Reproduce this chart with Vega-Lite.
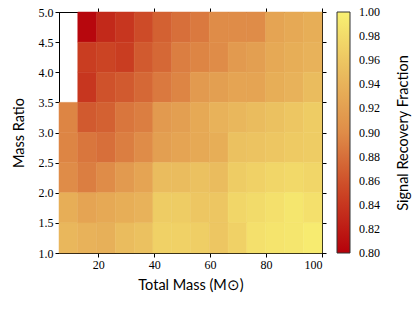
{
"$schema":"https://vega.github.io/schema/vega-lite/v6.json",
"width":263,"height":241,
"autosize":{"type":"none"},
"padding":{"left":59,"top":12,"right":94,"bottom":57},
"config":{"view":{"stroke":"black","strokeWidth":1},
 "axis":{"grid":false,"domainColor":"black","tickColor":"black","tickSize":4,"labelFont":"Liberation Serif","labelFontSize":12,"labelColor":"black","titleFont":"Lato","titleFontSize":14.5,"titleFontWeight":"normal","titleColor":"black","labelPadding":2}},
"data":{"values":[
{"m0":12.71,"m1":19.43,"q0":4.5,"q1":5.0,"f":0.805},
{"m0":19.43,"m1":26.14,"q0":4.5,"q1":5.0,"f":0.83},
{"m0":26.14,"m1":32.86,"q0":4.5,"q1":5.0,"f":0.84},
{"m0":32.86,"m1":39.57,"q0":4.5,"q1":5.0,"f":0.855},
{"m0":39.57,"m1":46.29,"q0":4.5,"q1":5.0,"f":0.87},
{"m0":46.29,"m1":53,"q0":4.5,"q1":5.0,"f":0.88},
{"m0":53,"m1":59.71,"q0":4.5,"q1":5.0,"f":0.887},
{"m0":59.71,"m1":66.43,"q0":4.5,"q1":5.0,"f":0.9},
{"m0":66.43,"m1":73.14,"q0":4.5,"q1":5.0,"f":0.9},
{"m0":73.14,"m1":79.86,"q0":4.5,"q1":5.0,"f":0.9},
{"m0":79.86,"m1":86.57,"q0":4.5,"q1":5.0,"f":0.925},
{"m0":86.57,"m1":93.29,"q0":4.5,"q1":5.0,"f":0.93},
{"m0":93.29,"m1":100,"q0":4.5,"q1":5.0,"f":0.935},
{"m0":12.71,"m1":19.43,"q0":4.0,"q1":4.5,"f":0.845},
{"m0":19.43,"m1":26.14,"q0":4.0,"q1":4.5,"f":0.85},
{"m0":26.14,"m1":32.86,"q0":4.0,"q1":4.5,"f":0.845},
{"m0":32.86,"m1":39.57,"q0":4.0,"q1":4.5,"f":0.865},
{"m0":39.57,"m1":46.29,"q0":4.0,"q1":4.5,"f":0.875},
{"m0":46.29,"m1":53,"q0":4.0,"q1":4.5,"f":0.89},
{"m0":53,"m1":59.71,"q0":4.0,"q1":4.5,"f":0.895},
{"m0":59.71,"m1":66.43,"q0":4.0,"q1":4.5,"f":0.9},
{"m0":66.43,"m1":73.14,"q0":4.0,"q1":4.5,"f":0.915},
{"m0":73.14,"m1":79.86,"q0":4.0,"q1":4.5,"f":0.92},
{"m0":79.86,"m1":86.57,"q0":4.0,"q1":4.5,"f":0.93},
{"m0":86.57,"m1":93.29,"q0":4.0,"q1":4.5,"f":0.935},
{"m0":93.29,"m1":100,"q0":4.0,"q1":4.5,"f":0.94},
{"m0":12.71,"m1":19.43,"q0":3.5,"q1":4.0,"f":0.84},
{"m0":19.43,"m1":26.14,"q0":3.5,"q1":4.0,"f":0.86},
{"m0":26.14,"m1":32.86,"q0":3.5,"q1":4.0,"f":0.865},
{"m0":32.86,"m1":39.57,"q0":3.5,"q1":4.0,"f":0.875},
{"m0":39.57,"m1":46.29,"q0":3.5,"q1":4.0,"f":0.887},
{"m0":46.29,"m1":53,"q0":3.5,"q1":4.0,"f":0.895},
{"m0":53,"m1":59.71,"q0":3.5,"q1":4.0,"f":0.915},
{"m0":59.71,"m1":66.43,"q0":3.5,"q1":4.0,"f":0.92},
{"m0":66.43,"m1":73.14,"q0":3.5,"q1":4.0,"f":0.925},
{"m0":73.14,"m1":79.86,"q0":3.5,"q1":4.0,"f":0.925},
{"m0":79.86,"m1":86.57,"q0":3.5,"q1":4.0,"f":0.935},
{"m0":86.57,"m1":93.29,"q0":3.5,"q1":4.0,"f":0.94},
{"m0":93.29,"m1":100,"q0":3.5,"q1":4.0,"f":0.95},
{"m0":6,"m1":12.71,"q0":3.0,"q1":3.5,"f":0.895},
{"m0":12.71,"m1":19.43,"q0":3.0,"q1":3.5,"f":0.865},
{"m0":19.43,"m1":26.14,"q0":3.0,"q1":3.5,"f":0.87},
{"m0":26.14,"m1":32.86,"q0":3.0,"q1":3.5,"f":0.885},
{"m0":32.86,"m1":39.57,"q0":3.0,"q1":3.5,"f":0.89},
{"m0":39.57,"m1":46.29,"q0":3.0,"q1":3.5,"f":0.915},
{"m0":46.29,"m1":53,"q0":3.0,"q1":3.5,"f":0.92},
{"m0":53,"m1":59.71,"q0":3.0,"q1":3.5,"f":0.93},
{"m0":59.71,"m1":66.43,"q0":3.0,"q1":3.5,"f":0.94},
{"m0":66.43,"m1":73.14,"q0":3.0,"q1":3.5,"f":0.945},
{"m0":73.14,"m1":79.86,"q0":3.0,"q1":3.5,"f":0.95},
{"m0":79.86,"m1":86.57,"q0":3.0,"q1":3.5,"f":0.955},
{"m0":86.57,"m1":93.29,"q0":3.0,"q1":3.5,"f":0.96},
{"m0":93.29,"m1":100,"q0":3.0,"q1":3.5,"f":0.965},
{"m0":6,"m1":12.71,"q0":2.5,"q1":3.0,"f":0.895},
{"m0":12.71,"m1":19.43,"q0":2.5,"q1":3.0,"f":0.885},
{"m0":19.43,"m1":26.14,"q0":2.5,"q1":3.0,"f":0.88},
{"m0":26.14,"m1":32.86,"q0":2.5,"q1":3.0,"f":0.89},
{"m0":32.86,"m1":39.57,"q0":2.5,"q1":3.0,"f":0.9},
{"m0":39.57,"m1":46.29,"q0":2.5,"q1":3.0,"f":0.92},
{"m0":46.29,"m1":53,"q0":2.5,"q1":3.0,"f":0.925},
{"m0":53,"m1":59.71,"q0":2.5,"q1":3.0,"f":0.93},
{"m0":59.71,"m1":66.43,"q0":2.5,"q1":3.0,"f":0.935},
{"m0":66.43,"m1":73.14,"q0":2.5,"q1":3.0,"f":0.955},
{"m0":73.14,"m1":79.86,"q0":2.5,"q1":3.0,"f":0.957},
{"m0":79.86,"m1":86.57,"q0":2.5,"q1":3.0,"f":0.96},
{"m0":86.57,"m1":93.29,"q0":2.5,"q1":3.0,"f":0.963},
{"m0":93.29,"m1":100,"q0":2.5,"q1":3.0,"f":0.965},
{"m0":6,"m1":12.71,"q0":2.0,"q1":2.5,"f":0.9},
{"m0":12.71,"m1":19.43,"q0":2.0,"q1":2.5,"f":0.89},
{"m0":19.43,"m1":26.14,"q0":2.0,"q1":2.5,"f":0.9},
{"m0":26.14,"m1":32.86,"q0":2.0,"q1":2.5,"f":0.915},
{"m0":32.86,"m1":39.57,"q0":2.0,"q1":2.5,"f":0.925},
{"m0":39.57,"m1":46.29,"q0":2.0,"q1":2.5,"f":0.95},
{"m0":46.29,"m1":53,"q0":2.0,"q1":2.5,"f":0.95},
{"m0":53,"m1":59.71,"q0":2.0,"q1":2.5,"f":0.955},
{"m0":59.71,"m1":66.43,"q0":2.0,"q1":2.5,"f":0.95},
{"m0":66.43,"m1":73.14,"q0":2.0,"q1":2.5,"f":0.965},
{"m0":73.14,"m1":79.86,"q0":2.0,"q1":2.5,"f":0.97},
{"m0":79.86,"m1":86.57,"q0":2.0,"q1":2.5,"f":0.975},
{"m0":86.57,"m1":93.29,"q0":2.0,"q1":2.5,"f":0.978},
{"m0":93.29,"m1":100,"q0":2.0,"q1":2.5,"f":0.975},
{"m0":6,"m1":12.71,"q0":1.5,"q1":2.0,"f":0.935},
{"m0":12.71,"m1":19.43,"q0":1.5,"q1":2.0,"f":0.925},
{"m0":19.43,"m1":26.14,"q0":1.5,"q1":2.0,"f":0.93},
{"m0":26.14,"m1":32.86,"q0":1.5,"q1":2.0,"f":0.935},
{"m0":32.86,"m1":39.57,"q0":1.5,"q1":2.0,"f":0.94},
{"m0":39.57,"m1":46.29,"q0":1.5,"q1":2.0,"f":0.965},
{"m0":46.29,"m1":53,"q0":1.5,"q1":2.0,"f":0.965},
{"m0":53,"m1":59.71,"q0":1.5,"q1":2.0,"f":0.96},
{"m0":59.71,"m1":66.43,"q0":1.5,"q1":2.0,"f":0.96},
{"m0":66.43,"m1":73.14,"q0":1.5,"q1":2.0,"f":0.975},
{"m0":73.14,"m1":79.86,"q0":1.5,"q1":2.0,"f":0.98},
{"m0":79.86,"m1":86.57,"q0":1.5,"q1":2.0,"f":0.985},
{"m0":86.57,"m1":93.29,"q0":1.5,"q1":2.0,"f":0.99},
{"m0":93.29,"m1":100,"q0":1.5,"q1":2.0,"f":0.985},
{"m0":6,"m1":12.71,"q0":1.0,"q1":1.5,"f":0.945},
{"m0":12.71,"m1":19.43,"q0":1.0,"q1":1.5,"f":0.94},
{"m0":19.43,"m1":26.14,"q0":1.0,"q1":1.5,"f":0.938},
{"m0":26.14,"m1":32.86,"q0":1.0,"q1":1.5,"f":0.95},
{"m0":32.86,"m1":39.57,"q0":1.0,"q1":1.5,"f":0.955},
{"m0":39.57,"m1":46.29,"q0":1.0,"q1":1.5,"f":0.97},
{"m0":46.29,"m1":53,"q0":1.0,"q1":1.5,"f":0.97},
{"m0":53,"m1":59.71,"q0":1.0,"q1":1.5,"f":0.967},
{"m0":59.71,"m1":66.43,"q0":1.0,"q1":1.5,"f":0.96},
{"m0":66.43,"m1":73.14,"q0":1.0,"q1":1.5,"f":0.97},
{"m0":73.14,"m1":79.86,"q0":1.0,"q1":1.5,"f":0.985},
{"m0":79.86,"m1":86.57,"q0":1.0,"q1":1.5,"f":0.988},
{"m0":86.57,"m1":93.29,"q0":1.0,"q1":1.5,"f":0.99},
{"m0":93.29,"m1":100,"q0":1.0,"q1":1.5,"f":0.995}
]},
"layer":[
 {"mark":{"type":"rect","strokeWidth":0.5,"stroke":{"expr":"scale('color', datum.f)"}},
  "encoding":{
   "x":{"field":"m0","type":"quantitative","scale":{"domain":[6,100],"nice":false,"zero":false},
        "axis":{"values":[20,40,60,80,100],"title":"Total Mass (M⊙)","titlePadding":8}},
   "x2":{"field":"m1"},
   "y":{"field":"q0","type":"quantitative","scale":{"domain":[1,5],"nice":false,"zero":false},
        "axis":{"values":[1,1.5,2,2.5,3,3.5,4,4.5,5],"format":".1f","title":"Mass Ratio","titlePadding":12}},
   "y2":{"field":"q1"},
   "color":{"field":"f","type":"quantitative",
     "scale":{"domain":[0.8,0.85,0.9,0.95,1.0],"range":["#b5000a","#cb4424","#df8c48","#eabc5e","#f8f072"],"interpolate":"rgb"},
     "legend":{"orient":"none","legendX":278,"legendY":0,"direction":"vertical","gradientLength":241,"gradientThickness":13,
       "gradientStrokeColor":"#333","gradientStrokeWidth":1,"values":[0.8,0.82,0.84,0.86,0.88,0.9,0.92,0.94,0.96,0.98,1.0],
       "format":".2f","labelFont":"Liberation Serif","labelFontSize":12,"labelColor":"black","labelOffset":9,"labelOverlap":false,
       "title":"Signal Recovery Fraction","titleOrient":"right","titleFont":"Lato","titleFontSize":14.5,
       "titleFontWeight":"normal","titleColor":"black","titlePadding":14,"titleAnchor":"middle",
       "encode":{"title":{"update":{"angle":{"value":270},"dy":{"value":17}}},
                 "labels":{"update":{"baseline":{"value":"middle"}}}}}}
  }},
 {"mark":{"type":"point","opacity":0},
  "encoding":{
   "x":{"field":"m0","type":"quantitative","axis":{"orient":"top","labels":false,"title":null,"values":[20,40,60,80,100]}},
   "y":{"field":"q0","type":"quantitative","axis":{"orient":"right","labels":false,"title":null,"values":[1,1.5,2,2.5,3,3.5,4,4.5,5]}}
  }}
],
"resolve":{"axis":{"x":"independent","y":"independent"}}
}
